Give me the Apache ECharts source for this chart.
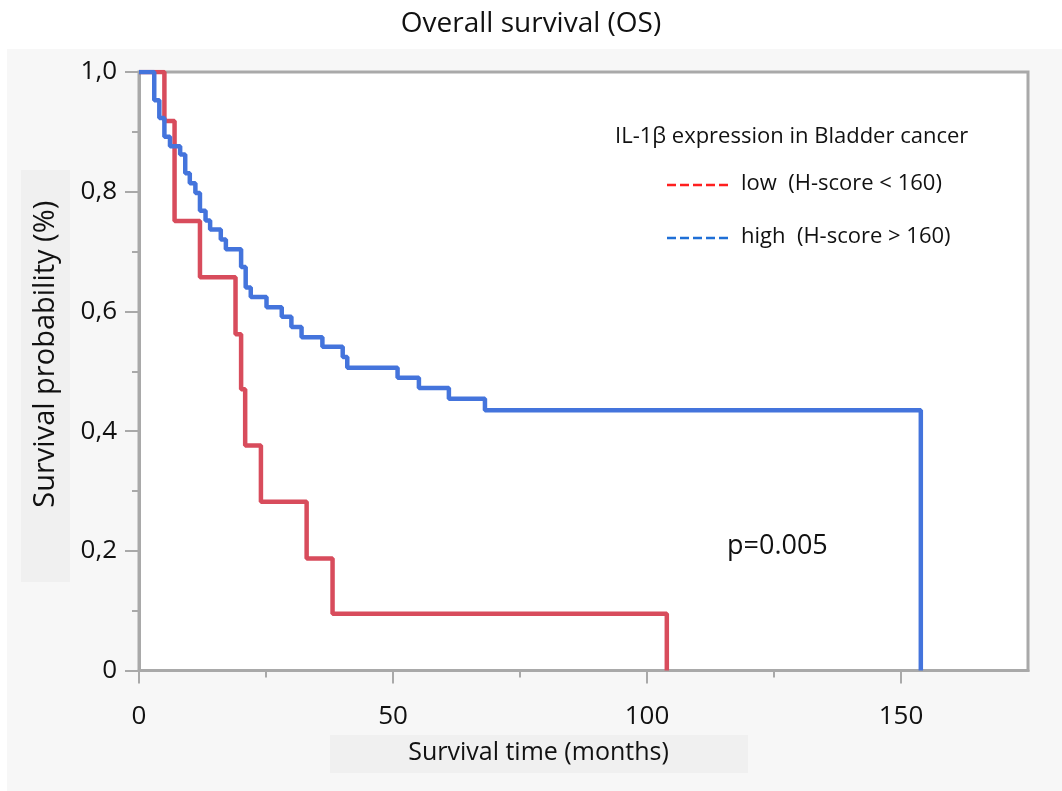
<!DOCTYPE html>
<html lang="en">
<head>
    <meta charset="UTF-8">
    <title>Overall survival (OS)</title>
    <style>
        html, body { margin: 0; padding: 0; background: #ffffff; }
    </style>
</head>
<body>
<div id="main" style="width:1062px; height:791px;"></div>

<script src="https://cdn.jsdelivr.net/npm/echarts@6.0.0/dist/echarts.min.js"></script>
<script>
    // Kaplan-Meier steps (time in months, survival after the drop)
    var lowTimes  = [0, 5.0, 7.0, 12.0, 19.0, 20.1, 20.9, 24.0, 33.0, 38.1, 103.9];
    var lowSurv   = [1.0, 0.918, 0.751, 0.657, 0.562, 0.470, 0.376, 0.282, 0.187, 0.095, 0];

    var highTimes = [0, 3.0, 4.0, 5.0, 6.1, 8.1, 9.1, 10.0, 11.1, 12.0, 13.1, 14.0, 16.1, 17.1,
                     20.1, 21.0, 22.0, 25.1, 28.1, 30.0, 32.0, 36.1, 40.1, 41.0, 50.9, 55.1,
                     61.0, 68.1, 153.9];
    var highSurv  = [1.0, 0.953, 0.923, 0.892, 0.876, 0.862, 0.831, 0.814, 0.798, 0.768, 0.752, 0.737,
                     0.720, 0.704, 0.674, 0.640, 0.624, 0.607, 0.591, 0.574, 0.557, 0.541, 0.524,
                     0.506, 0.489, 0.472, 0.454, 0.435, 0];

    var xMajorTicks = [0, 50, 100, 150];
    var xMinorTicks = [25, 75, 125];
    var yMajorTicks = [0, 0.2, 0.4, 0.6, 0.8, 1.0];
    var yMinorTicks = [0.1, 0.3, 0.5, 0.7, 0.9];

    var legendTitle = 'IL-1β expression in Bladder cancer';
    var legendNames = ['low  (H-score < 160)', 'high  (H-score > 160)'];
    var pValueText = 'p=0.005';

    var FONT = '"Open Sans", "Noto Sans", sans-serif';
    var AXIS_GRAY = '#a9a9a9';

    function pairs(xs, ys) {
        var out = [];
        for (var i = 0; i < xs.length; i++) out.push([xs[i], ys[i]]);
        return out;
    }

    function yLabel(v) {
        if (v === 0) return '0';
        return v.toFixed(1).replace('.', ',');
    }

    var myChart = echarts.init(document.getElementById('main'));

    var option = {
        backgroundColor: '#ffffff',
        animation: false,
        title: {
            text: 'Overall survival (OS)',
            left: 'center',
            top: 5,
            textStyle: { fontFamily: FONT, fontSize: 28, fontWeight: 'normal', color: '#111' }
        },
        grid: {
            left: 139, top: 72, right: 34, bottom: 120.5,
            show: true,
            backgroundColor: '#ffffff',
            borderColor: AXIS_GRAY,
            borderWidth: 3
        },
        xAxis: [{
            type: 'value',
            min: 0, max: 175,
            name: 'Survival time (months)',
            nameLocation: 'middle',
            nameGap: 70,
            // name sits left of the plot centre, as in the original
            nameTextStyle: { fontFamily: FONT, fontSize: 25, color: '#111', padding: [0, 90, 0, 0] },
            axisLine: { show: true, lineStyle: { color: AXIS_GRAY, width: 3 } },
            axisTick: { show: true, length: 13, customValues: xMajorTicks, lineStyle: { color: AXIS_GRAY, width: 2 } },
            axisLabel: { customValues: xMajorTicks, margin: 33, fontFamily: FONT, fontSize: 26, color: '#111' },
            splitLine: { show: false }
        }, {
            type: 'value',
            min: 0, max: 175,
            position: 'bottom',
            axisLine: { show: false },
            axisTick: { show: true, length: 7, customValues: xMinorTicks, lineStyle: { color: AXIS_GRAY, width: 2 } },
            axisLabel: { show: false },
            splitLine: { show: false }
        }],
        yAxis: [{
            type: 'value',
            min: 0, max: 1,
            name: 'Survival probability (%)',
            nameLocation: 'middle',
            nameGap: 79,
            nameTextStyle: { fontFamily: FONT, fontSize: 29, color: '#111', padding: [0, 0, 0, 34] },
            axisLine: { show: true, lineStyle: { color: AXIS_GRAY, width: 3 } },
            axisTick: { show: true, length: 14, customValues: yMajorTicks, lineStyle: { color: AXIS_GRAY, width: 2 } },
            axisLabel: { customValues: yMajorTicks, margin: 22, fontFamily: FONT, fontSize: 26, color: '#111', formatter: yLabel },
            splitLine: { show: false }
        }, {
            type: 'value',
            min: 0, max: 1,
            position: 'left',
            axisLine: { show: false },
            axisTick: { show: true, length: 7, customValues: yMinorTicks, lineStyle: { color: AXIS_GRAY, width: 2 } },
            axisLabel: { show: false },
            splitLine: { show: false }
        }],
        series: [{
            name: 'low',
            type: 'line',
            step: 'end',
            showSymbol: false,
            data: pairs(lowTimes, lowSurv),
            lineStyle: { color: '#d84c5c', width: 4.5 },
            itemStyle: { color: '#d84c5c' },
            z: 3
        }, {
            name: 'high',
            type: 'line',
            step: 'end',
            showSymbol: false,
            data: pairs(highTimes, highSurv),
            lineStyle: { color: '#4474dc', width: 4.5 },
            itemStyle: { color: '#4474dc' },
            z: 4
        }],
        graphic: [
            // grey panel behind the plot
            { type: 'rect', z: -20, silent: true, shape: { x: 7, y: 49, width: 1060, height: 750 }, style: { fill: '#f7f7f7' } },
            // boxes behind the axis names
            { type: 'rect', z: -19, silent: true, shape: { x: 21, y: 170, width: 49, height: 412 }, style: { fill: '#f0f0f0' } },
            { type: 'rect', z: -19, silent: true, shape: { x: 330, y: 735, width: 418, height: 38 }, style: { fill: '#f0f0f0' } },
            // legend
            { type: 'text', z: 10, left: 615, top: 126, style: { text: legendTitle, fontFamily: FONT, fontSize: 22, fill: '#111' } },
            { type: 'line', z: 10, shape: { x1: 667, y1: 185, x2: 729, y2: 185 }, style: { stroke: '#ff1f1f', lineWidth: 2.5, lineDash: [9, 4] } },
            { type: 'text', z: 10, left: 741, top: 173, style: { text: legendNames[0], fontFamily: FONT, fontSize: 22, fill: '#111' } },
            { type: 'line', z: 10, shape: { x1: 667, y1: 238, x2: 729, y2: 238 }, style: { stroke: '#1f6fd6', lineWidth: 2.5, lineDash: [9, 4] } },
            { type: 'text', z: 10, left: 741, top: 226, style: { text: legendNames[1], fontFamily: FONT, fontSize: 22, fill: '#111' } },
            // p value
            { type: 'text', z: 10, left: 727, top: 533, style: { text: pValueText, fontFamily: FONT, fontSize: 27, fill: '#111' } }
        ]
    };

    myChart.setOption(option);
</script>
</body>
</html>
